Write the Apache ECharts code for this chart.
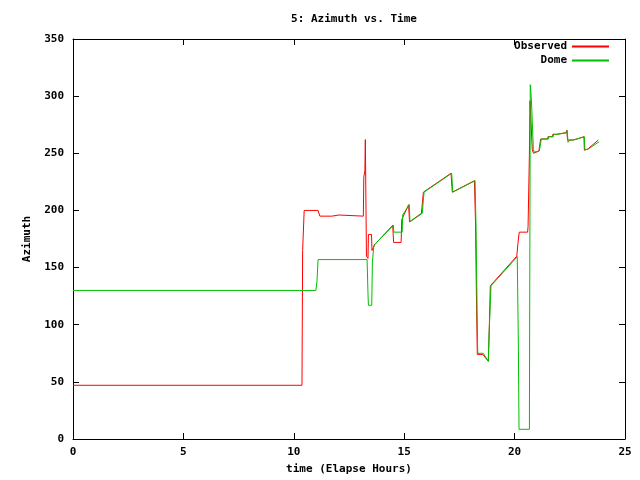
<!DOCTYPE html>
<html>
<head>
<meta charset="utf-8">
<script src="https://cdn.jsdelivr.net/npm/echarts@6/dist/echarts.min.js"></script>
<style>html,body{margin:0;padding:0;background:#fff}#c{width:640px;height:480px}</style>
</head>
<body>
<div id="c"></div>
<script>
var xTicks = [0, 5, 10, 15, 20, 25];
var yTicks = [0, 50, 100, 150, 200, 250, 300, 350];

var obsTime = [0,10.37,10.40,10.45,10.47,11.10,11.18,11.72,11.73,12.05,12.06,13.15,13.17,13.22,13.24,13.27,13.29,13.36,13.38,13.52,13.54,13.62,13.66,14.48,14.52,14.86,14.89,15.20,15.24,15.78,15.84,15.87,17.12,17.18,18.18,18.23,18.28,18.31,18.56,18.81,18.84,18.88,18.90,20.10,20.15,20.21,20.59,20.61,20.65,20.67,20.70,20.74,20.80,20.86,21.10,21.15,21.18,21.50,21.51,21.72,21.73,21.90,21.91,22.33,22.36,22.40,22.64,22.65,22.90,22.91,23.14,23.16,23.32,23.79];
var obsAz   = [47,47,165,165,200,200,195,195,196,196,195,195,229,235,262,262,160,158,179,179,165,165,170,187,172,172,192,205,190,197.5,210,216,232.5,216,226,189,113,74,74,68,86,118,134,160,171,181,181,186,186,249,296,296,253,250,252,253,262.5,262.5,264.5,264.5,266.6,266.6,268,268,270,261.6,261.6,263,263,264.5,264.5,252.8,253.8,261.6];

var domeTime = [0,11.00,11.05,11.10,13.32,13.36,13.38,13.53,13.56,13.62,13.65,14.51,14.53,14.91,14.93,15.23,15.26,15.82,15.87,15.90,17.15,17.20,18.21,18.25,18.30,18.33,18.58,18.81,18.83,18.90,18.93,20.12,20.17,20.20,20.67,20.69,20.71,20.75,20.78,20.85,20.89,21.12,21.17,21.21,21.53,21.54,21.75,21.76,21.93,21.94,22.36,22.38,22.42,22.50,22.66,22.67,22.92,22.93,23.16,23.18,23.34,23.82];
var domeAz   = [130,130,138,157,157,127,117,117,155,168,170,187,181,181,196,205,190,197.5,210,216,232.5,216,226,189,113.5,75,75,68,86,118,134,159.5,84,8.5,8.5,160,310,300,288,253,251,252,253,262.5,262.5,264.5,264.5,266.6,266.6,268,268,270,259.6,261.6,261.6,263,263,264.5,264.5,252.8,253.8,260];

function zip(a, b) { return a.map(function (v, i) { return [v, b[i]]; }); }

var FONT = 'DejaVu Sans Mono';
var chart = echarts.init(document.getElementById('c'), null, {renderer: 'canvas'});
var tickStyle = {show: true, inside: true, length: 6, lineStyle: {color: '#000', width: 1}};
var lineStyle = {show: true, onZero: false, lineStyle: {color: '#000', width: 1}};
var txt = {fontFamily: FONT, fontSize: 11, fontWeight: 'bold', color: '#000'};
chart.setOption({
  animation: false,
  backgroundColor: '#fff',
  title: {
    text: '5: Azimuth vs. Time', left: 349, top: 9, textAlign: 'center',
    textStyle: txt
  },
  legend: [
    {data: ['Observed'], right: 31, top: 41, align: 'right', icon: 'rect', itemWidth: 37, itemHeight: 2,
     itemStyle: {color: '#ff0000', borderWidth: 0, opacity: 1}, lineStyle: {width: 0}, textStyle: txt, itemGap: 4, padding: 0},
    {data: ['Dome'], right: 31, top: 55, align: 'right', icon: 'rect', itemWidth: 37, itemHeight: 2,
     itemStyle: {color: '#00c000', borderWidth: 0, opacity: 1}, lineStyle: {width: 0}, textStyle: txt, itemGap: 4, padding: 0}
  ],
  grid: {left: 73, right: 15, top: 39, bottom: 41, containLabel: false},
  xAxis: [
    {type: 'value', min: xTicks[0], max: xTicks[xTicks.length - 1], interval: 5, position: 'bottom',
     name: 'time (Elapse Hours)', nameLocation: 'middle', nameGap: 25, nameTextStyle: txt,
     axisLine: lineStyle, axisTick: tickStyle, splitLine: {show: false},
     axisLabel: Object.assign({margin: 8}, txt)},
    {type: 'value', min: xTicks[0], max: xTicks[xTicks.length - 1], interval: 5, position: 'top',
     axisLine: lineStyle, axisTick: tickStyle, splitLine: {show: false}, axisLabel: {show: false}}
  ],
  yAxis: [
    {type: 'value', min: yTicks[0], max: yTicks[yTicks.length - 1], interval: 50, position: 'left',
     name: 'Azimuth', nameLocation: 'middle', nameGap: 40, nameRotate: 90, nameTextStyle: txt,
     axisLine: lineStyle, axisTick: tickStyle, splitLine: {show: false},
     axisLabel: Object.assign({margin: 9}, txt)},
    {type: 'value', min: yTicks[0], max: yTicks[yTicks.length - 1], interval: 50, position: 'right',
     axisLine: lineStyle, axisTick: tickStyle, splitLine: {show: false}, axisLabel: {show: false}}
  ],
  series: [
    {name: 'Observed', type: 'line', data: zip(obsTime, obsAz), showSymbol: false, symbol: 'none',
     lineStyle: {color: '#ff0000', width: 1}, itemStyle: {color: '#ff0000'}, xAxisIndex: 0, yAxisIndex: 0},
    {name: 'Dome', type: 'line', data: zip(domeTime, domeAz), showSymbol: false, symbol: 'none',
     lineStyle: {color: '#00c000', width: 1}, itemStyle: {color: '#00c000'}, xAxisIndex: 0, yAxisIndex: 0}
  ]
});
</script>
</body>
</html>
